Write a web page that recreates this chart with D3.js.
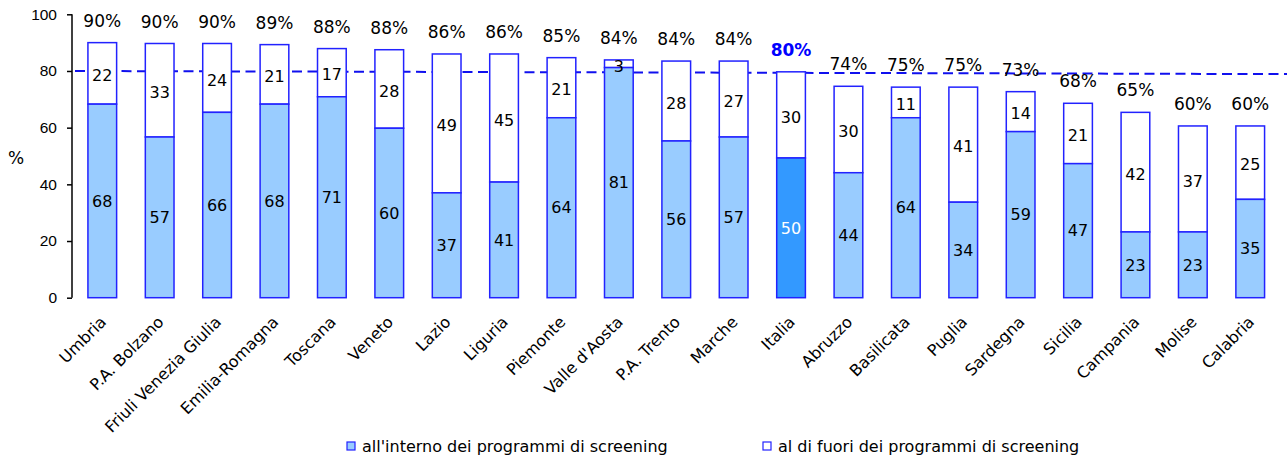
<!DOCTYPE html>
<html lang="it">
<head>
<meta charset="UTF-8">
<title>Screening per regione</title>
<style>
  body { margin: 0; background: #fff; }
  svg { display: block; font-family: "DejaVu Sans", Verdana, sans-serif; }
  .axis path, .axis line { stroke: #000; stroke-width: 1.5px; }
  .axis text { font-size: 15.5px; fill: #000; }
  .seg { stroke: #2222ff; stroke-width: 1.5px; }
  .val { font-size: 16px; fill: #000; text-anchor: middle; }
  .tot { font-size: 17px; }
</style>
</head>
<body>
<svg id="chart" width="1287" height="463"></svg>
<script src="https://cdn.jsdelivr.net/npm/d3@7"></script>
<script>
// regions, sorted by total coverage (Italia = national average)
const regions = ["Umbria", "P.A. Bolzano", "Friuli Venezia Giulia", "Emilia-Romagna", "Toscana",
  "Veneto", "Lazio", "Liguria", "Piemonte", "Valle d'Aosta", "P.A. Trento", "Marche", "Italia",
  "Abruzzo", "Basilicata", "Puglia", "Sardegna", "Sicilia", "Campania", "Molise", "Calabria"];

// bar heights (%)
const inside = [68.3, 56.7, 65.4, 68.3, 70.9, 59.8, 37.0, 40.8, 63.5, 81.2, 55.3, 56.7, 49.3,
  44.1, 63.5, 33.7, 58.6, 47.3, 23.2, 23.2, 34.7];
const total = [90.0, 89.7, 89.7, 89.3, 87.9, 87.5, 86.0, 86.0, 84.7, 83.9, 83.5, 83.5, 79.7,
  74.6, 74.3, 74.3, 72.7, 68.6, 65.4, 60.6, 60.6];

// printed labels
const insideLabels = [68, 57, 66, 68, 71, 60, 37, 41, 64, 81, 56, 57, 50, 44, 64, 34, 59, 47, 23, 23, 35];
const outsideLabels = [22, 33, 24, 21, 17, 28, 49, 45, 21, 3, 28, 27, 30, 30, 11, 41, 14, 21, 42, 37, 25];
const totalLabels = [90, 90, 90, 89, 88, 88, 86, 86, 85, 84, 84, 84, 80, 74, 75, 75, 73, 68, 65, 60, 60];

const yTicks = [0, 20, 40, 60, 80, 100];
const refLine = [80, 78.9]; // dashed reference, left and right ends
const legendLabels = ["all'interno dei programmi di screening", "al di fuori dei programmi di screening"];
const highlight = "Italia";

const svg = d3.select("#chart");
const x = d3.scaleBand().domain(regions).range([73, 1279.5]).padding(0.5).paddingOuter(0.26);
const y = d3.scaleLinear().domain([0, 100]).range([297.7, 14.3]);

const rows = regions.map((r, i) => ({
  name: r, inside: inside[i], total: total[i],
  inLab: insideLabels[i], outLab: outsideLabels[i], totLab: totalLabels[i]
}));

// y axis
const yAxis = svg.append("g").attr("class", "axis")
  .attr("transform", "translate(72,0)")
  .call(d3.axisLeft(y).tickValues(yTicks).tickSize(5).tickPadding(10).tickSizeOuter(0));
yAxis.select(".domain").attr("d", `M0,${y(100)}V${y(0)}`);

svg.append("text").attr("x", 8).attr("y", 164).attr("font-size", 17).text("%");

// reference line
svg.append("line")
  .attr("x1", 75).attr("x2", 1287)
  .attr("y1", y(refLine[0])).attr("y2", y(refLine[1]))
  .attr("stroke", "#1010ee").attr("stroke-width", 2)
  .attr("stroke-dasharray", "10,5.5");

const bar = svg.selectAll(".bar").data(rows).enter().append("g").attr("class", "bar");

// outside segment (white)
bar.append("rect").attr("class", "seg")
  .attr("x", d => x(d.name)).attr("width", x.bandwidth())
  .attr("y", d => y(d.total)).attr("height", d => y(d.inside) - y(d.total))
  .attr("fill", "#fff");

// inside segment
bar.append("rect").attr("class", "seg")
  .attr("x", d => x(d.name)).attr("width", x.bandwidth())
  .attr("y", d => y(d.inside)).attr("height", d => y(0) - y(d.inside))
  .attr("fill", d => d.name === highlight ? "#3399ff" : "#99ccff");

const cx = d => x(d.name) + x.bandwidth() / 2;

bar.append("text").attr("class", "val")
  .attr("x", cx).attr("y", d => (y(d.inside) + y(0)) / 2).attr("dy", "0.36em")
  .style("fill", d => d.name === highlight ? "#fff" : null)
  .text(d => d.inLab);

bar.append("text").attr("class", "val")
  .attr("x", cx).attr("y", d => (y(d.total) + y(d.inside)) / 2 + 2).attr("dy", "0.36em")
  .text(d => d.outLab);

bar.append("text").attr("class", "val tot")
  .attr("x", cx).attr("y", d => y(d.total) - 22).attr("dy", "0.36em")
  .style("fill", d => d.name === highlight ? "#0000ff" : null)
  .style("font-weight", d => d.name === highlight ? "bold" : null)
  .text(d => d.totLab + "%");

// category labels
svg.selectAll(".cat").data(regions).enter().append("text")
  .attr("class", "cat")
  .attr("transform", d => `translate(${x(d) + x.bandwidth() / 2 + 5},${323}) rotate(-45)`)
  .attr("text-anchor", "end")
  .attr("font-size", 16)
  .text(d => d);

// legend
const legX = [347, 763];
const legend = svg.selectAll(".leg").data(legendLabels).enter().append("g")
  .attr("transform", (d, i) => `translate(${legX[i]},442)`);
legend.append("rect").attr("width", 8).attr("height", 8)
  .attr("fill", (d, i) => i === 0 ? "#99ccff" : "#fff")
  .attr("stroke", "#2222ff").attr("stroke-width", 1.2);
legend.append("text").attr("x", 15).attr("y", 10).attr("font-size", 16).text(d => d);
</script>
</body>
</html>
